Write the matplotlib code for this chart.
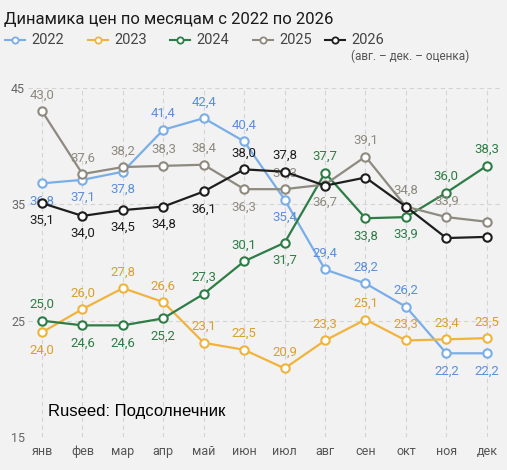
import matplotlib
matplotlib.use('Agg')
import matplotlib.pyplot as plt
from matplotlib.lines import Line2D

months = ['янв','фев','мар','апр','май','июн','июл','авг','сен','окт','ноя','дек']
y2022 = [36.8,37.1,37.8,41.4,42.4,40.4,35.4,29.4,28.2,26.2,22.2,22.2]
y2023 = [24.0,26.0,27.8,26.6,23.1,22.5,20.9,23.3,25.1,23.3,23.4,23.5]
y2024 = [25.0,24.6,24.6,25.2,27.3,30.1,31.7,37.7,33.8,33.9,36.0,38.3]
y2025 = [43.0,37.6,38.2,38.3,38.4,36.3,36.3,36.7,39.1,34.8,33.9,33.5]
y2026 = [35.1,34.0,34.5,34.8,36.1,38.0,37.8,36.6,37.3,34.8,32.1,32.2]
pos2022 = 'bbbaaabaaabb'
pos2023 = 'baaaaaaaaaaa'
pos2024 = 'abbbaababbaa'
pos2025 = 'aaaaababaaa '
pos2026 = 'bbbbbaa     '

series = [('2022', y2022, '#7aaee8', '#5b8fdc', pos2022),
          ('2023', y2023, '#f0b43c', '#d9a030', pos2023),
          ('2024', y2024, '#2e7d46', '#2e7d46', pos2024),
          ('2025', y2025, '#8f8a80', '#8f8a80', pos2025),
          ('2026', y2026, '#1e1e1e', '#1e1e1e', pos2026)]

bg = '#f2f2f2'
fig = plt.figure(figsize=(5.07, 4.70), dpi=100, facecolor=bg)
ax = fig.add_axes([0.055, 0.070, 0.933, 0.743], facecolor=bg)
x = list(range(12))
for name, ys, c, tc, pos in series:
    ax.plot(x, ys, color=c, lw=1.6, marker='o', ms=6, mfc='white', mec=c, mew=1.5, zorder=3)
    for i, (v, p) in enumerate(zip(ys, pos)):
        if p == 'a':
            ax.annotate(f'{v:.1f}'.replace('.', ','), (i, v), xytext=(0, 7), textcoords='offset points',
                        ha='center', va='bottom', color=tc, fontsize=9.5, family='Roboto')
        elif p == 'b':
            ax.annotate(f'{v:.1f}'.replace('.', ','), (i, v), xytext=(0, -8), textcoords='offset points',
                        ha='center', va='top', color=tc, fontsize=9.5, family='Roboto')

ax.set_xlim(-0.35, 11.35)
ax.set_ylim(15, 45)
ax.set_xticks(x)
ax.set_xticklabels(months, fontsize=9, color='#555555', family='Roboto')
ax.set_yticks([15, 25, 35, 45])
ax.set_yticklabels(['15', '25', '35', '45'], fontsize=9, color='#666666', family='Roboto')
ax.tick_params(axis='x', length=0, pad=6)
ax.tick_params(axis='y', length=0, pad=2)
ax.grid(True, ls=(0, (4, 3)), color='#d4d4d4', lw=0.8)
for s in ax.spines.values():
    s.set_visible(False)

fig.text(0.008, 0.975, 'Динамика цен по месяцам с 2022 по 2026', fontsize=12, family='Roboto', va='top', color='#1a1a1a')
lx = [0.010, 0.174, 0.335, 0.499, 0.641]
ly = 0.915
for (name, ys, c, tc, pos), xx in zip(series, lx):
    fig.add_artist(Line2D([xx, xx + 0.04], [ly, ly], color=c, lw=1.5, transform=fig.transFigure))
    fig.add_artist(Line2D([xx + 0.02], [ly], color=c, marker='o', ms=4.5, mfc='white', mec=c, mew=1.3,
                          transform=fig.transFigure))
    fig.text(xx + 0.052, ly, name, fontsize=10.5, family='Roboto', va='center', color='#444444')
fig.text(0.693, 0.881, '(авг. – дек. – оценка)', fontsize=8.5, family='Roboto', va='center', color='#555555')
fig.text(0.095, 0.115, 'Ruseed: Подсолнечник', fontsize=12, family='Liberation Sans', color='black')
fig.savefig('out.png', dpi=100, facecolor=bg)
